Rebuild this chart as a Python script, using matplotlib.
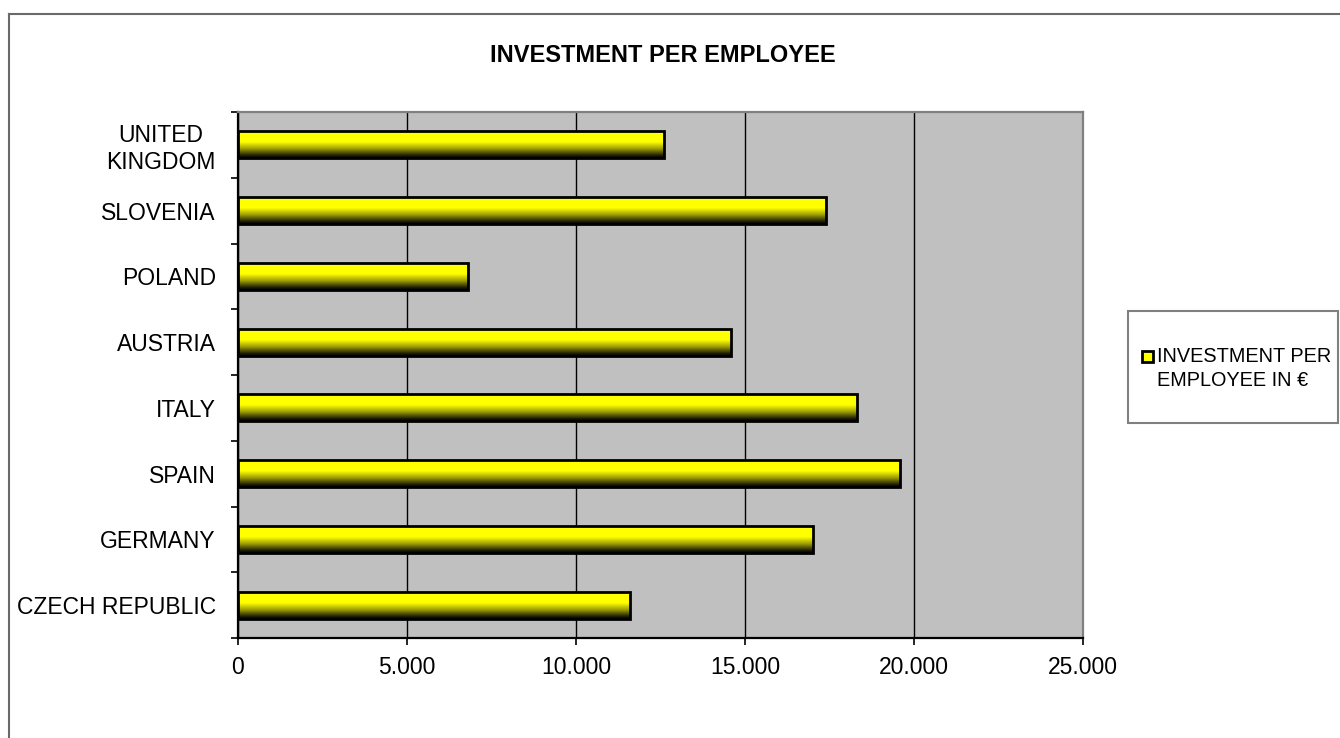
import matplotlib.pyplot as plt
import numpy as np
from matplotlib.colors import LinearSegmentedColormap
from matplotlib.lines import Line2D
from matplotlib.patches import Rectangle
from matplotlib.ticker import FuncFormatter, MultipleLocator

plt.rcParams['font.family'] = ['Liberation Sans', 'DejaVu Sans']

# bottom to top, as the categories appear on the axis
countries = ['CZECH REPUBLIC', 'GERMANY', 'SPAIN', 'ITALY', 'AUSTRIA',
             'POLAND', 'SLOVENIA', 'UNITED\nKINGDOM']
investment = [11600, 17000, 19600, 18300, 14600, 6800, 17400, 12600]
series_name = 'INVESTMENT PER\nEMPLOYEE IN €'

W, H = 1340, 738
fig = plt.figure(figsize=(W / 100, H / 100), dpi=100)
fig.patch.set_facecolor('white')

ax = fig.add_axes([238 / W, 1 - 638 / H, (1083 - 238) / W, (638 - 112) / H])
ax.set_facecolor('#C0C0C0')

y = np.arange(len(countries))
bar_h = 0.41

# vertical shading: black at the bottom edge, fading up to plain yellow
shade = LinearSegmentedColormap.from_list(
    'shade', [(0.0, '#000000'), (0.08, '#1a1a00'), (0.35, '#a0a000'),
              (0.6, '#FFFF00'), (1.0, '#FFFF00')])
grad = np.linspace(0, 1, 64).reshape(-1, 1)

bars = ax.barh(y, investment, height=bar_h, facecolor='none',
               edgecolor='black', linewidth=2.0, zorder=4)
for bar in bars:
    x0, y0 = bar.get_x(), bar.get_y()
    im = ax.imshow(grad, cmap=shade, origin='lower', aspect='auto',
                   extent=(x0, x0 + bar.get_width(), y0, y0 + bar.get_height()),
                   zorder=3, interpolation='bilinear')
    im.set_clip_path(bar)

ax.set_xlim(0, 25000)
ax.set_ylim(-0.5, len(countries) - 0.5)
ax.xaxis.set_major_locator(MultipleLocator(5000))
ax.xaxis.set_major_formatter(FuncFormatter(lambda v, p: f'{int(v):,}'.replace(',', '.')))
ax.grid(axis='x', color='black', linewidth=1.0, zorder=1)
ax.set_axisbelow(True)

ax.set_yticks(y)
ax.set_yticklabels(countries)
ax.set_yticks(np.arange(-0.5, len(countries)), minor=True)
for lbl in ax.get_yticklabels():
    lbl.set_multialignment('center')

ax.tick_params(axis='y', which='major', length=0, pad=16, labelsize=16.5)
ax.tick_params(axis='y', which='minor', length=5, width=1.2, direction='out')
ax.tick_params(axis='x', length=5, width=1.2, direction='out', pad=8, labelsize=16.5)

for side in ('left', 'bottom'):
    ax.spines[side].set_color('black')
    ax.spines[side].set_linewidth(1.6)
for side in ('top', 'right'):
    ax.spines[side].set_color('#808080')
    ax.spines[side].set_linewidth(1.6)

fig.text(663 / W, 1 - 56 / H, 'INVESTMENT PER EMPLOYEE', ha='center', va='center',
         fontsize=17, fontweight='bold')

# chart area border (runs off the right and bottom edges)
fig.add_artist(Line2D([9 / W, 1.0], [1 - 14 / H, 1 - 14 / H], color='#6a6a6a', linewidth=1.5))
fig.add_artist(Line2D([9 / W, 9 / W], [0.0, 1 - 14 / H], color='#6a6a6a', linewidth=1.5))

# legend box
fig.add_artist(Rectangle((1128 / W, 1 - 423 / H), (1338 - 1128) / W, (423 - 311) / H,
                         transform=fig.transFigure, facecolor='white',
                         edgecolor='#808080', linewidth=1.5))
fig.add_artist(Rectangle((1142 / W, 1 - 362 / H), 11 / W, 11 / H,
                         transform=fig.transFigure, facecolor='#FFFF00',
                         edgecolor='black', linewidth=2.0))
line1, line2 = series_name.split('\n')
fig.text(1157 / W, 1 - 357 / H, line1, ha='left', va='center', fontsize=14.3)
fig.text(1233 / W, 1 - 380 / H, line2, ha='center', va='center', fontsize=14.3)

fig.savefig('out.png', dpi=100)
